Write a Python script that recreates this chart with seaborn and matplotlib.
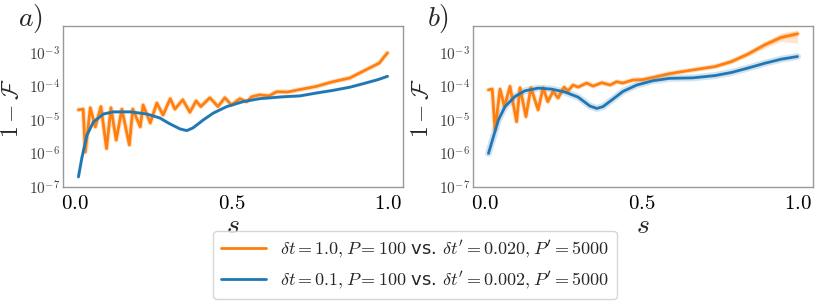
#!/usr/bin/env python3

# Infidelity 1 - F along the schedule s, two panels with two runs each.

import numpy as np
import pandas as pd
import seaborn as sns
import matplotlib
matplotlib.use("Agg")
import matplotlib.pyplot as plt
from matplotlib.ticker import FixedLocator, FuncFormatter, NullLocator

# Panel a) data.
s_orange_a = [0.01, 0.025, 0.032, 0.048, 0.064, 0.082, 0.10, 0.114, 0.131,
              0.149, 0.173, 0.184, 0.208, 0.217, 0.24, 0.261, 0.281, 0.304,
              0.319, 0.344, 0.367, 0.387, 0.402, 0.431, 0.457, 0.479, 0.50,
              0.527, 0.549, 0.565, 0.59, 0.62, 0.645, 0.68, 0.72, 0.772,
              0.825, 0.879, 0.93, 0.974, 0.99, 1.0]
f_orange_a = [2.0e-5, 2.1e-5, 1.1e-6, 2.3e-5, 6.2e-6, 2.5e-5, 1.4e-6, 2.3e-5,
              2.5e-6, 2.1e-5, 1.8e-6, 2.1e-5, 6.2e-6, 2.8e-5, 8.1e-6, 3.2e-5,
              1.4e-5, 4.3e-5, 2.1e-5, 4.0e-5, 1.7e-5, 3.7e-5, 2.5e-5, 4.6e-5,
              2.5e-5, 4.6e-5, 2.8e-5, 4.3e-5, 3.5e-5, 4.9e-5, 5.6e-5, 5.2e-5,
              6.9e-5, 6.8e-5, 8.1e-5, 1.0e-4, 1.38e-4, 1.78e-4, 3.1e-4,
              5.0e-4, 7.8e-4, 1.0e-3]

s_blue_a = [0.01, 0.021, 0.037, 0.058, 0.09, 0.122, 0.176, 0.229, 0.27, 0.30,
            0.335, 0.357, 0.377, 0.41, 0.442, 0.485, 0.537, 0.59, 0.665,
            0.719, 0.77, 0.825, 0.88, 0.93, 0.97, 1.0]
f_blue_a = [2.0e-7, 7.4e-7, 3.5e-6, 8.7e-6, 1.5e-5, 1.74e-5, 1.74e-5, 1.5e-5,
            1.15e-5, 7.9e-6, 5.4e-6, 4.8e-6, 5.8e-6, 1.0e-5, 1.6e-5, 2.5e-5,
            3.5e-5, 4.3e-5, 4.9e-5, 5.2e-5, 6.3e-5, 7.6e-5, 9.5e-5, 1.26e-4,
            1.6e-4, 2.0e-4]

# Panel b) data.
s_orange_b = [0.01, 0.022, 0.031, 0.047, 0.061, 0.079, 0.10, 0.111, 0.13,
              0.146, 0.169, 0.185, 0.20, 0.217, 0.233, 0.252, 0.265, 0.281,
              0.297, 0.325, 0.345, 0.373, 0.40, 0.42, 0.44, 0.473, 0.505,
              0.548, 0.59, 0.665, 0.735, 0.788, 0.84, 0.895, 0.948, 1.0]
f_orange_b = [7.9e-5, 8.3e-5, 5.0e-6, 8.3e-5, 2.5e-5, 1.0e-4, 8.9e-6, 9.1e-5,
              1.26e-5, 9.1e-5, 2.0e-5, 9.1e-5, 3.5e-5, 7.1e-5, 4.5e-5, 9.5e-5,
              7.4e-5, 1.1e-4, 9.5e-5, 1.26e-4, 1.02e-4, 1.29e-4, 1.1e-4,
              1.38e-4, 1.26e-4, 1.55e-4, 1.6e-4, 1.95e-4, 2.4e-4, 3.1e-4,
              3.9e-4, 5.5e-4, 9.1e-4, 1.74e-3, 2.9e-3, 3.7e-3]

# Spread of the coarse run near the end of panel b).
s_band_b = [0.735, 0.788, 0.84, 0.895, 0.948, 1.0]
lo_band_b = [3.5e-4, 4.9e-4, 7.9e-4, 1.38e-3, 2.2e-3, 1.95e-3]
hi_band_b = [4.4e-4, 6.2e-4, 1.05e-3, 2.1e-3, 3.9e-3, 4.9e-3]

s_blue_b = [0.01, 0.026, 0.042, 0.063, 0.095, 0.127, 0.17, 0.212, 0.255,
            0.297, 0.335, 0.357, 0.377, 0.409, 0.441, 0.485, 0.537, 0.59,
            0.665, 0.735, 0.788, 0.84, 0.895, 0.948, 1.0]
f_blue_b = [1.0e-6, 3.2e-6, 1.0e-5, 2.5e-5, 5.0e-5, 7.4e-5, 8.9e-5, 8.3e-5,
            6.8e-5, 4.8e-5, 2.6e-5, 2.2e-5, 2.5e-5, 4.2e-5, 7.1e-5, 1.1e-4,
            1.48e-4, 1.74e-4, 1.8e-4, 2.1e-4, 2.6e-4, 3.5e-4, 4.9e-4, 6.5e-4,
            7.8e-4]

label_coarse = r"$\delta t=1.0, P=100$ vs. $\delta t'$$=0.020, P'$$=5000$"
label_fine = r"$\delta t=0.1, P=100$ vs. $\delta t'$$=0.002, P'$$=5000$"
panel_names = [r"$a)$", r"$b)$"]

ORANGE = "#ff7f0e"
BLUE = "#1f77b4"

sns.set_style("white")
plt.rcParams["font.family"] = ["DejaVu Sans"]
plt.rcParams["mathtext.fontset"] = "cm"

fig = plt.figure(figsize=(8.3, 3.07), dpi=100)
ax_a = fig.add_axes([0.0759, 0.391, 0.4096, 0.524])
ax_b = fig.add_axes([0.5699, 0.391, 0.4096, 0.524])

panels = [
    (ax_a, s_orange_a, f_orange_a, s_blue_a, f_blue_a, 3.5, 2.5),
    (ax_b, s_orange_b, f_orange_b, s_blue_b, f_blue_b, 3.5, 5.0),
]

for i, (ax, so, fo, sb, fb, halo_o, halo_b) in enumerate(panels):
    # faint halo for the ensemble spread
    sns.lineplot(x=so, y=fo, ax=ax, color=ORANGE, lw=halo_o, alpha=0.25,
                 legend=False)
    sns.lineplot(x=sb, y=fb, ax=ax, color=BLUE, lw=halo_b, alpha=0.2,
                 legend=False)
    sns.lineplot(x=so, y=fo, ax=ax, color=ORANGE, lw=2, label=label_coarse)
    sns.lineplot(x=sb, y=fb, ax=ax, color=BLUE, lw=2, label=label_fine)
    if ax.get_legend() is not None:
        ax.get_legend().remove()

    ax.set_yscale("log")
    ax.set_ylim(1e-7, 6.3e-3)
    ax.set_xlim(-0.0395, 1.0495)
    ax.xaxis.set_major_locator(FixedLocator([0.0, 0.5, 1.0]))
    ax.xaxis.set_major_formatter(FuncFormatter(lambda v, p: r"$%.1f$" % v))
    ax.yaxis.set_major_locator(FixedLocator([1e-7, 1e-6, 1e-5, 1e-4, 1e-3]))
    ax.yaxis.set_minor_locator(NullLocator())
    ax.yaxis.set_major_formatter(
        FuncFormatter(lambda v, p: r"$10^{%d}$" % round(np.log10(v))))
    ax.tick_params(axis="x", labelsize=15, length=0, pad=4, colors="black")
    ax.tick_params(axis="y", labelsize=11, length=0, pad=2, labelcolor="0.25")
    for sp in ax.spines.values():
        sp.set_color("0.6")
        sp.set_linewidth(1.0)

    ax.set_xlabel(r"$s$", fontsize=20)
    ax.set_ylabel(r"$1-\mathcal{F}$", fontsize=17)
    ax.xaxis.set_label_coords(0.5, -0.152)
    ax.yaxis.set_label_coords(-0.118, 0.49)

    fig.text([0.022, 0.514][i], 0.94, panel_names[i], fontsize=20,
             va="center", ha="left")

# band at the end of the coarse run in panel b)
ax_b.fill_between(s_band_b, lo_band_b, hi_band_b, color=ORANGE, alpha=0.2,
                  lw=0)

handles, labels = ax_a.get_legend_handles_labels()
fig.legend(handles, labels, loc="center", bbox_to_anchor=(0.5, 0.137),
           fontsize=13, handlelength=2.5, frameon=True, edgecolor="0.8")

fig.savefig("out.png", dpi=100)
plt.close()
